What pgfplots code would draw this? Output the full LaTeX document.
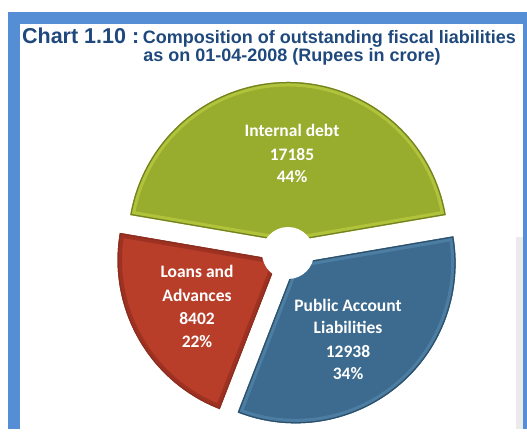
\documentclass[border=0pt]{standalone}
\usepackage{pgfplots}
\pgfplotsset{compat=1.18}
\usepackage{pgfplotstable}
\usepackage{fontspec}
\setmainfont{Liberation Sans}
\newfontfamily\calibri{Carlito}
\usetikzlibrary{calc}

\definecolor{frameblue}{RGB}{85,142,213}
\definecolor{titleblue}{RGB}{31,73,125}
\definecolor{gslice}{RGB}{152,172,46}
\definecolor{grim}{RGB}{196,214,70}
\definecolor{rslice}{RGB}{184,62,42}
\definecolor{rrim}{RGB}{140,40,28}
\definecolor{bslice}{RGB}{60,107,143}
\definecolor{brim}{RGB}{90,140,178}

\pgfplotstableread{
part value
Internal 17185
Loans 8402
Public 12938
}\liabilities

% start angle, end angle, fill, rim colour
\newcommand\slice[4]{%
  \begin{scope}
    \path[clip] ($(axis cs:288,175)+({(#1+#2)/2}:12pt)$) -- ++(#1:160pt)
      arc[start angle=#1,end angle=#2,radius=160pt] -- cycle;
    \fill[#3] (axis cs:0,0) rectangle (axis cs:527,429);
    \draw[#4, line width=9pt, opacity=0.55] ($(axis cs:288,175)+({(#1+#2)/2}:12pt)$) -- ++(#1:160pt)
      arc[start angle=#1,end angle=#2,radius=160pt] -- cycle;
    \draw[#3!75!black, line width=2.5pt] ($(axis cs:288,175)+({(#1+#2)/2}:12pt)$) -- ++(#1:160pt)
      arc[start angle=#1,end angle=#2,radius=160pt] -- cycle;
  \end{scope}}

\begin{document}
\begin{tikzpicture}
\pgfplotstablegetelem{0}{value}\of\liabilities \let\vA\pgfplotsretval
\pgfplotstablegetelem{1}{value}\of\liabilities \let\vB\pgfplotsretval
\pgfplotstablegetelem{2}{value}\of\liabilities \let\vC\pgfplotsretval
\pgfkeys{/pgf/fpu=true,/pgf/fpu/output format=fixed}
\pgfmathsetmacro\tot{\vA+\vB+\vC}
\pgfmathsetmacro\sA{90-180*\vA/\tot}
\pgfmathsetmacro\eA{90+180*\vA/\tot}
\pgfmathsetmacro\eB{\eA+360*\vB/\tot}
\pgfmathsetmacro\eC{\eB+360*\vC/\tot}
\pgfkeys{/pgf/fpu=false}
\begin{axis}[
    x=1pt, y=1pt,
    xmin=0, xmax=527,
    ymin=0, ymax=429,
    hide axis,
    clip=false,
]
% background and frame
\fill[white] (axis cs:0,0) rectangle (axis cs:527,429);
\fill[frameblue] (axis cs:8,0) rectangle (axis cs:527,417);
\fill[white] (axis cs:20,0) rectangle (axis cs:523,405);
\fill[black!8!white] (axis cs:516,0) rectangle (axis cs:523,192);

% title
\node[anchor=base, text=titleblue, font=\bfseries] at (axis cs:269,385.5)
  {{\fontsize{21.5}{25}\selectfont Chart 1.10 :} {\fontsize{18}{21}\selectfont Composition of outstanding fiscal liabilities}};
\node[anchor=base, text=titleblue, font=\bfseries\fontsize{18}{21}\selectfont] at (axis cs:292,367.3)
  {as on 01-04-2008 (Rupees in crore)};

% slices
\slice{\sA}{\eA}{gslice}{grim}
\slice{\eA}{\eB}{rslice}{rrim}
\slice{\eB}{\eC}{bslice}{brim}
\fill[white] (axis cs:288,176) circle[radius=26pt];

% labels
\begin{scope}[every node/.style={anchor=base, text=white, font=\calibri\bfseries\fontsize{17.5}{21}\selectfont}]
\node at (axis cs:292,292) {Internal debt};
\node at (axis cs:292,269) {\vA};
\node at (axis cs:292,247) {44\%};
\node at (axis cs:197,152) {Loans and};
\node at (axis cs:197,128) {Advances};
\node at (axis cs:197,105) {\vB};
\node at (axis cs:197,82) {22\%};
\node at (axis cs:348,118) {Public Account};
\node at (axis cs:348,96) {Liabilities};
\node at (axis cs:348,72) {\vC};
\node at (axis cs:348,50) {34\%};
\end{scope}
\end{axis}
\end{tikzpicture}
\end{document}
